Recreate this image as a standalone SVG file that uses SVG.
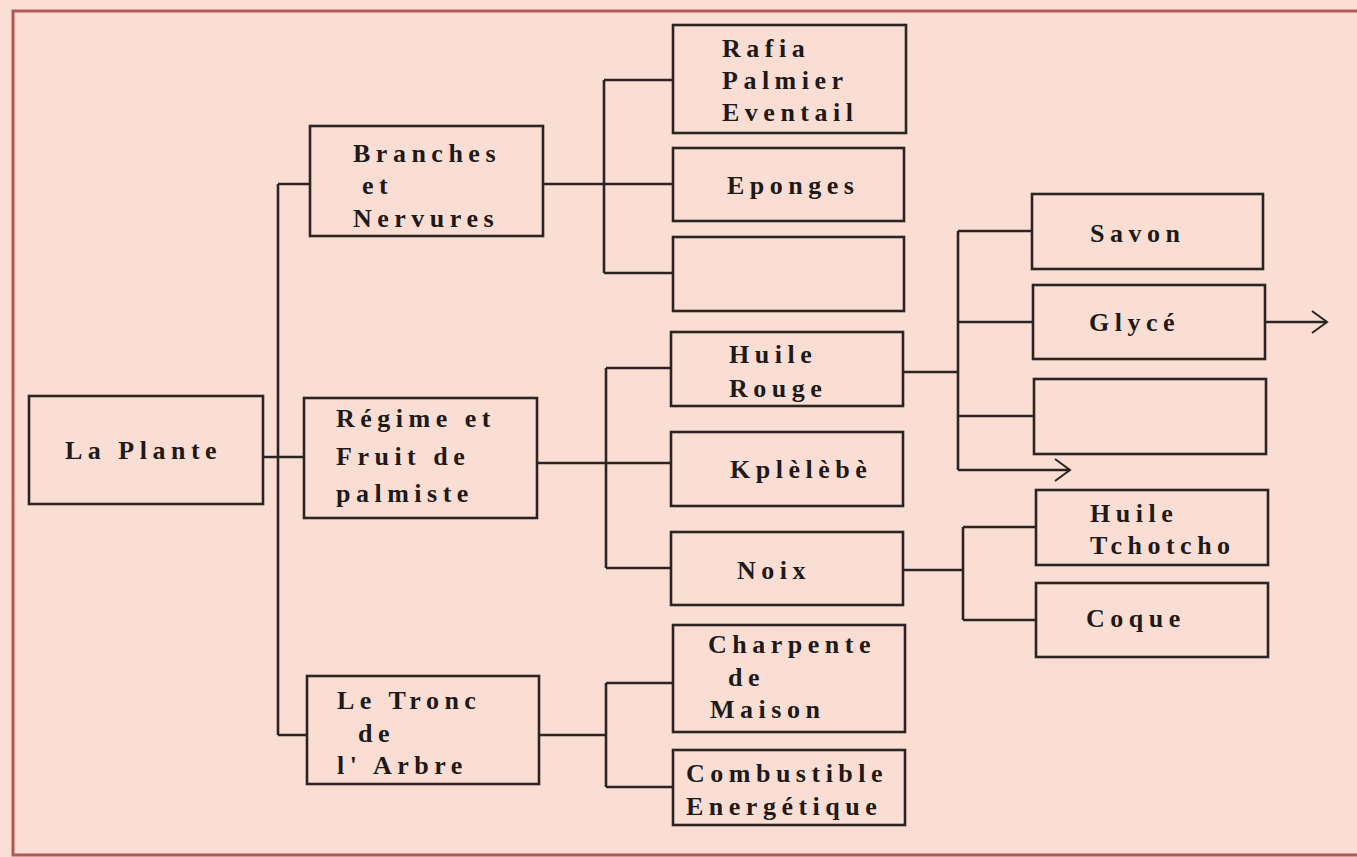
<svg xmlns="http://www.w3.org/2000/svg" width="1357" height="857" viewBox="0 0 1357 857">
<style>
.box{fill:none;stroke:#2a2422;stroke-width:2.6}
.ln{fill:none;stroke:#2a2422;stroke-width:2.6}
text{font-family:"Liberation Serif","DejaVu Serif",serif;font-weight:bold;font-size:26px;fill:#1e1a19;letter-spacing:5.5px}
</style>
<defs>
<marker id="chev" markerUnits="userSpaceOnUse" markerWidth="20" markerHeight="30" refX="16" refY="12" orient="auto">
<path d="M1,1 L16,12 L1,23" fill="none" stroke="#2a2422" stroke-width="2"/>
</marker>
</defs>
<rect x="0" y="0" width="1357" height="857" fill="#fbdfd4"/>
<rect x="13" y="11" width="1360" height="844" fill="#fbded3" stroke="#b0585a" stroke-width="3"/>

<g id="connectors">
<path class="ln" d="M263,457 H278 M278,184 V735 M278,184 H310 M278,457 H304 M278,735 H307"/>
<path class="ln" d="M543,184 H673 M604,80 V273 M604,80 H673 M604,273 H673"/>
<path class="ln" d="M537,463 H671 M606,368 V568 M606,368 H671 M606,568 H671"/>
<path class="ln" d="M539,735 H606 M606,683 V787 M606,683 H673 M606,787 H673"/>
<path class="ln" d="M903,372 H958 M958,231 V470 M958,231 H1032 M958,322 H1033 M958,416 H1034"/>
<path class="ln" d="M958,470 H1070" marker-end="url(#chev)"/>
<path class="ln" d="M1265,322 H1327" marker-end="url(#chev)"/>
<path class="ln" d="M903,570 H963 M963,527 V620 M963,527 H1036 M963,620 H1036"/>
</g>

<g id="la-plante"><rect class="box" x="29" y="396" width="234" height="108"/><text x="65" y="459">La Plante</text></g>
<g id="branches"><rect class="box" x="310" y="126" width="233" height="110"/><text x="353" y="162">Branches</text><text x="362" y="194">et</text><text x="353" y="227">Nervures</text></g>
<g id="regime"><rect class="box" x="304" y="398" width="233" height="120"/><text x="336" y="427">Régime et</text><text x="336" y="465">Fruit de</text><text x="336" y="502">palmiste</text></g>
<g id="tronc"><rect class="box" x="307" y="676" width="232" height="108"/><text x="337" y="709">Le Tronc</text><text x="358" y="742">de</text><text x="337" y="774">l' Arbre</text></g>
<g id="rafia"><rect class="box" x="673" y="25" width="233" height="108"/><text x="722" y="57">Rafia</text><text x="722" y="89">Palmier</text><text x="722" y="121">Eventail</text></g>
<g id="eponges"><rect class="box" x="673" y="148" width="231" height="73"/><text x="727" y="194">Eponges</text></g>
<g id="empty1"><rect class="box" x="673" y="237" width="231" height="74"/></g>
<g id="huile-rouge"><rect class="box" x="671" y="332" width="232" height="74"/><text x="729" y="363">Huile</text><text x="729" y="397">Rouge</text></g>
<g id="kplelebe"><rect class="box" x="671" y="432" width="232" height="74"/><text x="730" y="478">Kplèlèbè</text></g>
<g id="noix"><rect class="box" x="671" y="532" width="232" height="73"/><text x="737" y="579">Noix</text></g>
<g id="charpente"><rect class="box" x="673" y="625" width="232" height="107"/><text x="708" y="653">Charpente</text><text x="728" y="686">de</text><text x="710" y="718">Maison</text></g>
<g id="combustible"><rect class="box" x="673" y="750" width="232" height="75"/><text x="686" y="782">Combustible</text><text x="686" y="815">Energétique</text></g>
<g id="savon"><rect class="box" x="1032" y="194" width="231" height="75"/><text x="1090" y="242">Savon</text></g>
<g id="glyce"><rect class="box" x="1033" y="285" width="232" height="74"/><text x="1089" y="331">Glycé</text></g>
<g id="empty2"><rect class="box" x="1034" y="379" width="232" height="75"/></g>
<g id="huile-tchotcho"><rect class="box" x="1036" y="490" width="232" height="75"/><text x="1090" y="522">Huile</text><text x="1090" y="554">Tchotcho</text></g>
<g id="coque"><rect class="box" x="1036" y="583" width="232" height="74"/><text x="1086" y="627">Coque</text></g>
</svg>
